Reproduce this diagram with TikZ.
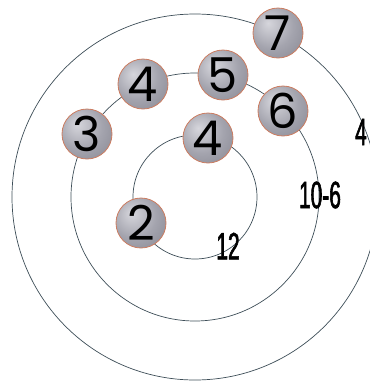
\documentclass[tikz,border=0pt]{standalone}
\usepackage{fontspec}
\newfontfamily\bolafont{Poppins}
\newfontfamily\etiqfont[FakeStretch=0.55, FakeBold=1.5]{Liberation Sans}

\definecolor{anillo}{HTML}{3E4E58}
\definecolor{borde}{HTML}{CC7C60}
\definecolor{bolaclaro}{HTML}{D6D6DC}
\definecolor{bolamedio}{HTML}{A4A4AE}
\definecolor{bolaoscuro}{HTML}{74747F}
\pgfdeclareradialshading{bolagris}{\pgfpoint{-10bp}{10bp}}{%
  color(0bp)=(bolaclaro); color(22bp)=(bolamedio); color(55bp)=(bolaoscuro); color(70bp)=(bolaoscuro)}

\tikzset{
  bola/.style={circle, minimum size=50pt, inner sep=0pt, draw=borde, line width=0.8pt,
    shading=bolagris, font=\bolafont\fontsize{48}{48}\selectfont},
  etiq/.style={inner sep=0pt, font=\etiqfont\fontsize{38}{38}\selectfont}
}

\begin{document}
\begin{tikzpicture}[x=1pt, y=-1pt]
  \useasboundingbox (0,0) rectangle (370,384);
  \clip (0,0) rectangle (370,384);

  % Anillos
  \coordinate (centro) at (195,197);
  \draw[anillo, line width=0.7pt] (centro) circle (62pt);
  \draw[anillo, line width=0.7pt] (centro) circle (124pt);
  \draw[anillo, line width=0.7pt] (centro) circle (183pt);

  % Bolas
  \node[bola] (b7)  at (278,33)  {7};
  \node[bola] (b5)  at (223,75)  {5};
  \node[bola] (b4a) at (143,84)  {4};
  \node[bola] (b6)  at (283,111) {6};
  \node[bola] (b3)  at (87,134)  {3};
  \node[bola] (b4b) at (208,138) {4};
  \node[bola] (b2)  at (141,223) {2};

  % Etiquetas
  \node[etiq] (e12) at (228,246) {12};
  \node[etiq] (e106) at (320,195) {10-6};
  \node[etiq] (e4) at (361,132) {4};
\end{tikzpicture}
\end{document}
